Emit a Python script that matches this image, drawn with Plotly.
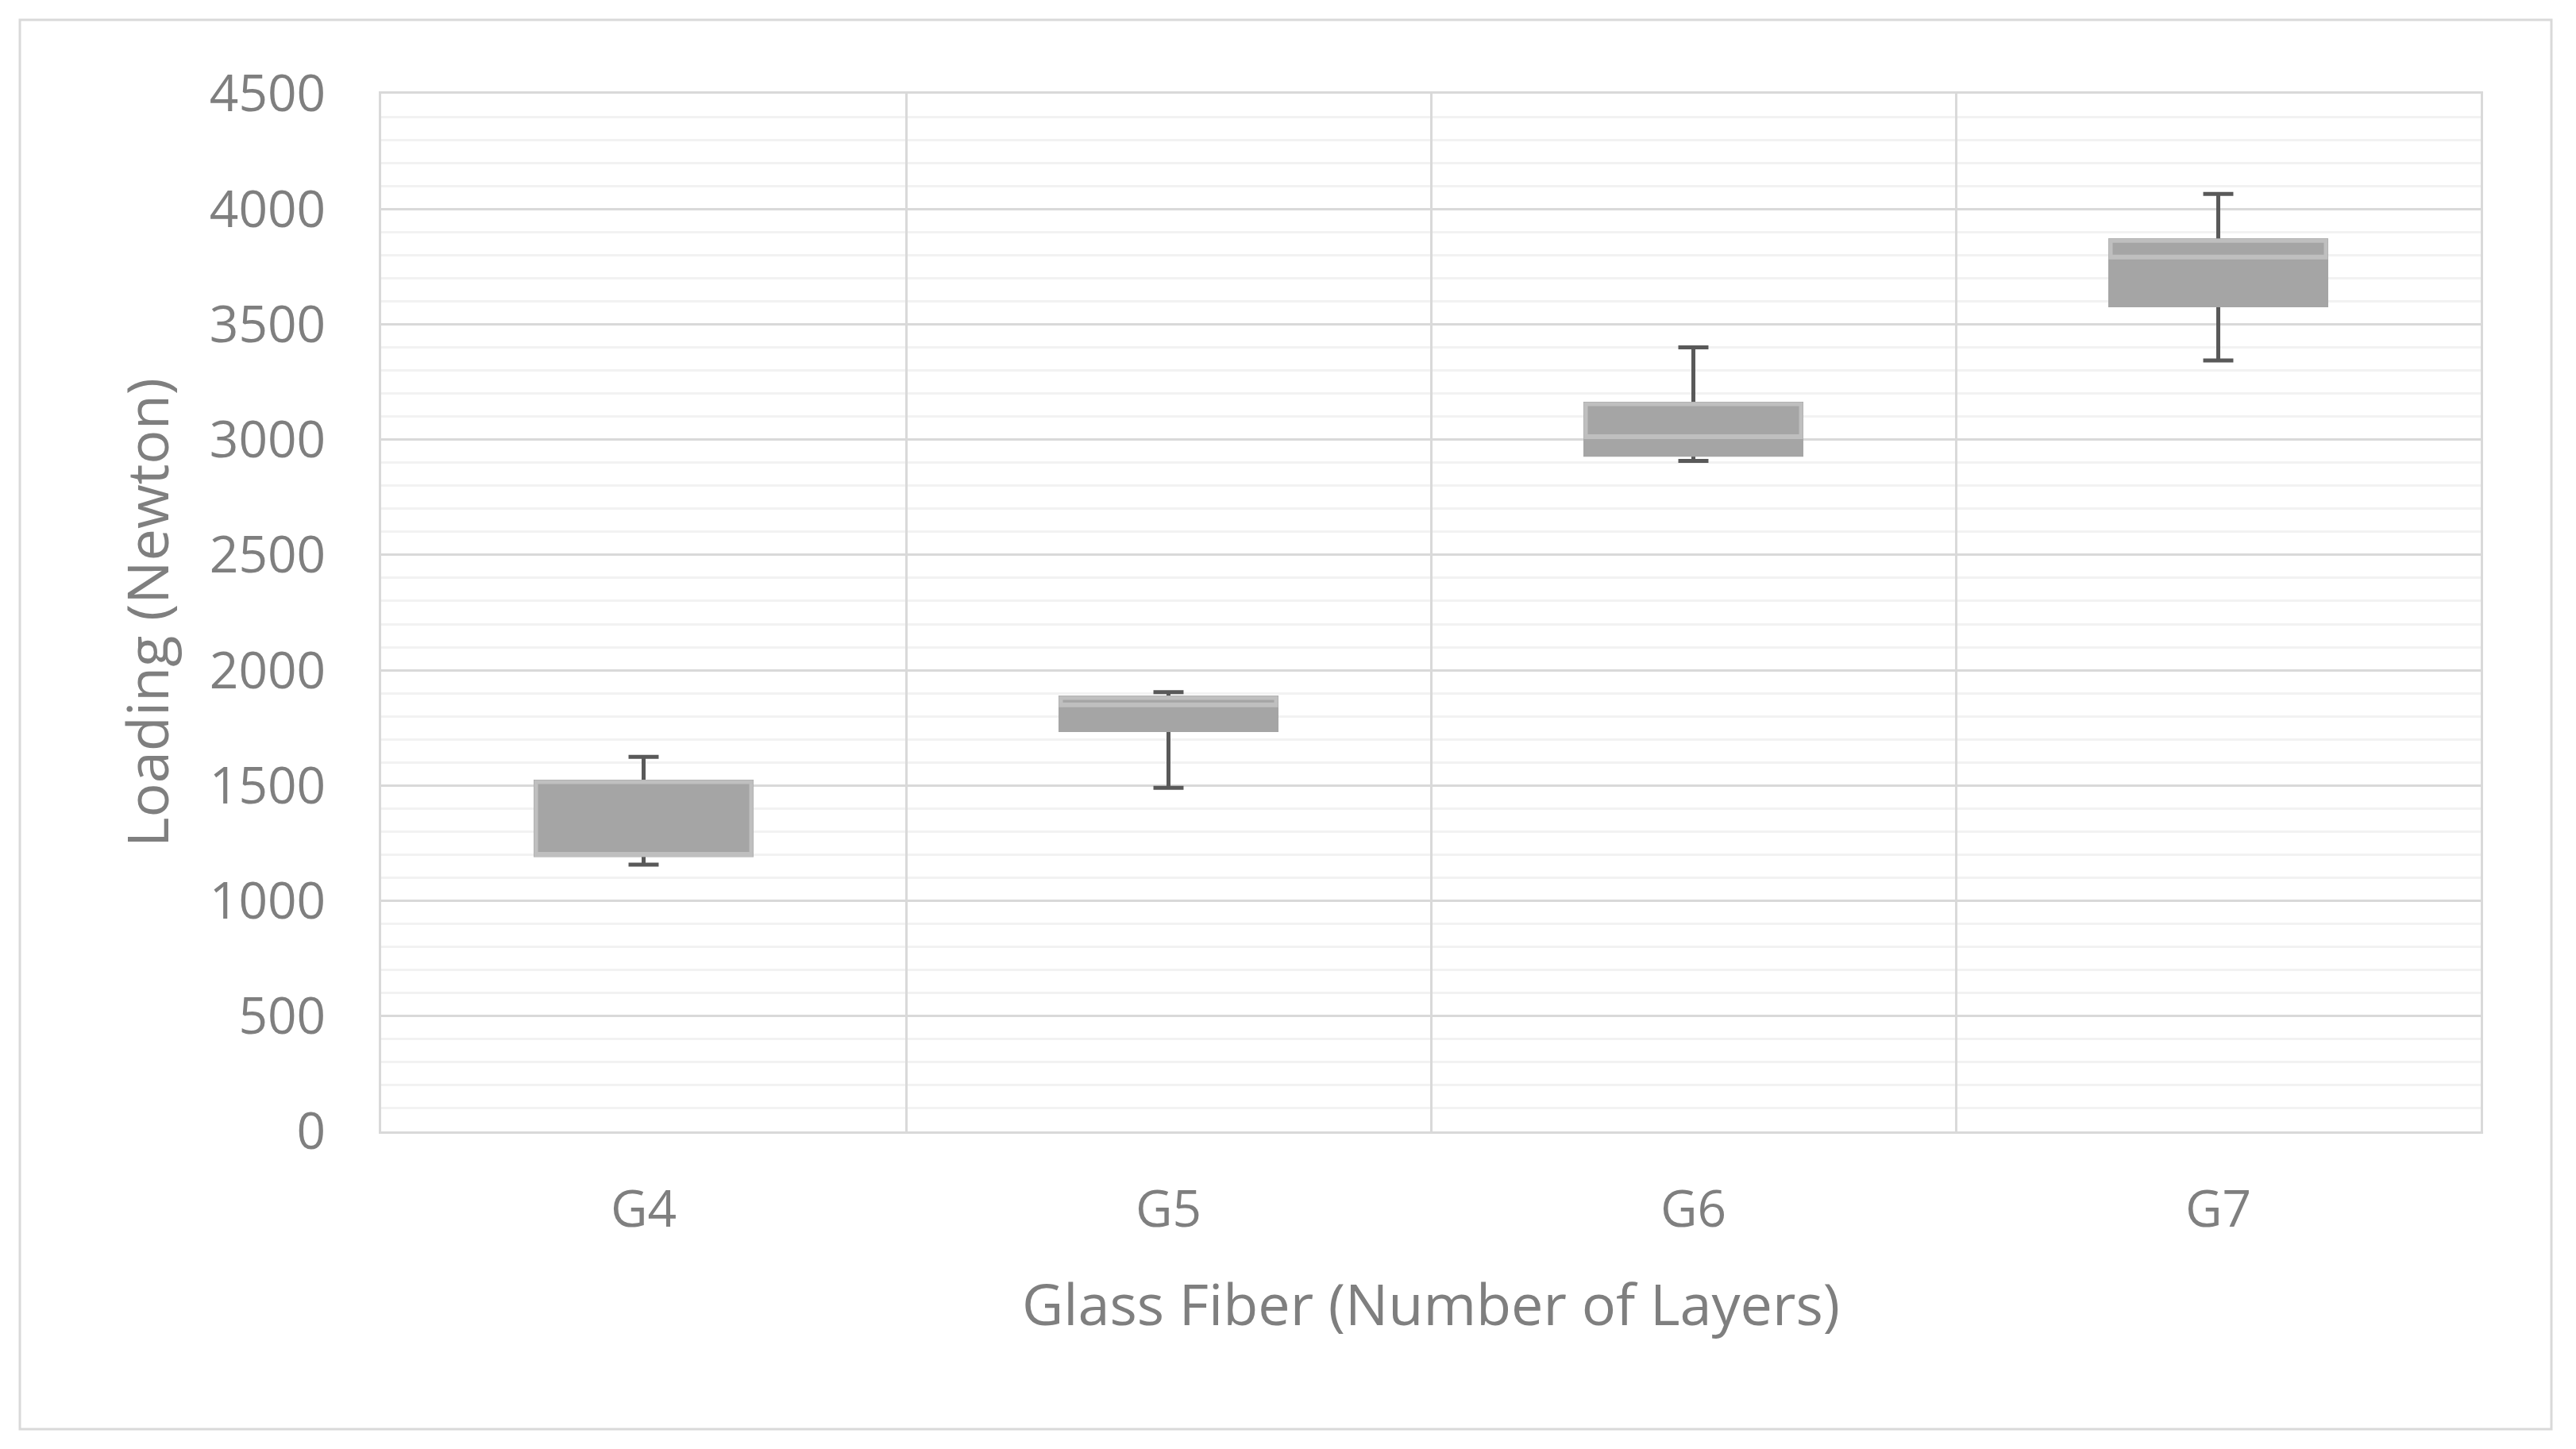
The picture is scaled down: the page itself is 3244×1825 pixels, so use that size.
import plotly.graph_objects as go

categories = ["G4", "G5", "G6", "G7"]
lower_whisker = [1157, 1490, 2908, 3343]
q1_values = [1200, 1742, 2936, 3584]
median_values = [1200, 1848, 3011, 3790]
q3_values = [1515, 1880, 3154, 3862]
upper_whisker = [1624, 1905, 3400, 4065]

y_ticks = [0, 500, 1000, 1500, 2000, 2500, 3000, 3500, 4000, 4500]

BOX_FILL = "#A5A5A5"
BOX_EDGE = "#BFBFBF"
WHISKER = "#595959"
GRID_MAJOR = "#D9D9D9"
GRID_MINOR = "#F2F2F2"
TEXT = "#7F7F7F"
FONT = "Open Sans"

W, H = 3244, 1825
OFF = 8  # page body margin compensation
L, R, T, B = 480 - OFF, 120 + OFF, 118 - OFF, 400 + OFF

fig = go.Figure()

common = dict(x=categories, width=0.41, whiskerwidth=0.14, showlegend=False,
              hoverinfo="skip", boxpoints=False)

# whiskers (dark)
fig.add_trace(go.Box(q1=q1_values, median=median_values, q3=q3_values,
                     lowerfence=lower_whisker, upperfence=upper_whisker,
                     line=dict(color=WHISKER, width=5), fillcolor=BOX_FILL, **common))
# full box body (lower half appearance)
fig.add_trace(go.Box(q1=q1_values, median=median_values, q3=q3_values,
                     lowerfence=q1_values, upperfence=q3_values,
                     line=dict(color=BOX_FILL, width=6), fillcolor=BOX_FILL, **common))
# upper half box (median to Q3) with light edge
fig.add_trace(go.Box(q1=median_values, median=median_values, q3=q3_values,
                     lowerfence=median_values, upperfence=q3_values,
                     line=dict(color=BOX_EDGE, width=5), fillcolor=BOX_FILL, **common))

# outer chart border
pw, ph = W - L - R, H - T - B
bx0, bx1, by0, by1 = 25 - OFF, 3213 - OFF, 25 - OFF, 1800 - OFF
fig.add_shape(type="rect", xref="paper", yref="paper",
              x0=(bx0 - L) / pw, x1=(bx1 - L) / pw,
              y0=(H - B - by1) / ph, y1=(H - B - by0) / ph,
              line=dict(color=GRID_MAJOR, width=3), fillcolor="rgba(0,0,0,0)", layer="below")

fig.update_layout(
    width=W, height=H,
    margin=dict(l=L, r=R, t=T, b=B),
    paper_bgcolor="white", plot_bgcolor="white",
    boxmode="overlay",
    font=dict(family=FONT, color=TEXT, size=64),
    xaxis=dict(
        type="category", range=[-0.5, 3.5], tickson="boundaries",
        showgrid=True, gridcolor=GRID_MAJOR, gridwidth=3,
        showline=True, linecolor=GRID_MAJOR, linewidth=3, mirror=True,
        ticks="", ticklabelstandoff=40,
        tickfont=dict(family=FONT, color=TEXT, size=64),
        title=dict(text="Glass Fiber (Number of Layers)", standoff=56,
                   font=dict(family=FONT, color=TEXT, size=72)),
        zeroline=False,
    ),
    yaxis=dict(
        range=[0, 4500], tickvals=y_ticks,
        showgrid=True, gridcolor=GRID_MAJOR, gridwidth=3,
        minor=dict(dtick=100, showgrid=True, gridcolor=GRID_MINOR, gridwidth=3),
        showline=True, linecolor=GRID_MAJOR, linewidth=3, mirror=True,
        ticks="", ticklabelstandoff=54,
        tickfont=dict(family=FONT, color=TEXT, size=64),
        title=dict(text="Loading (Newton)", standoff=28,
                   font=dict(family=FONT, color=TEXT, size=72)),
        zeroline=False,
    ),
)

fig.write_html("out.html")
